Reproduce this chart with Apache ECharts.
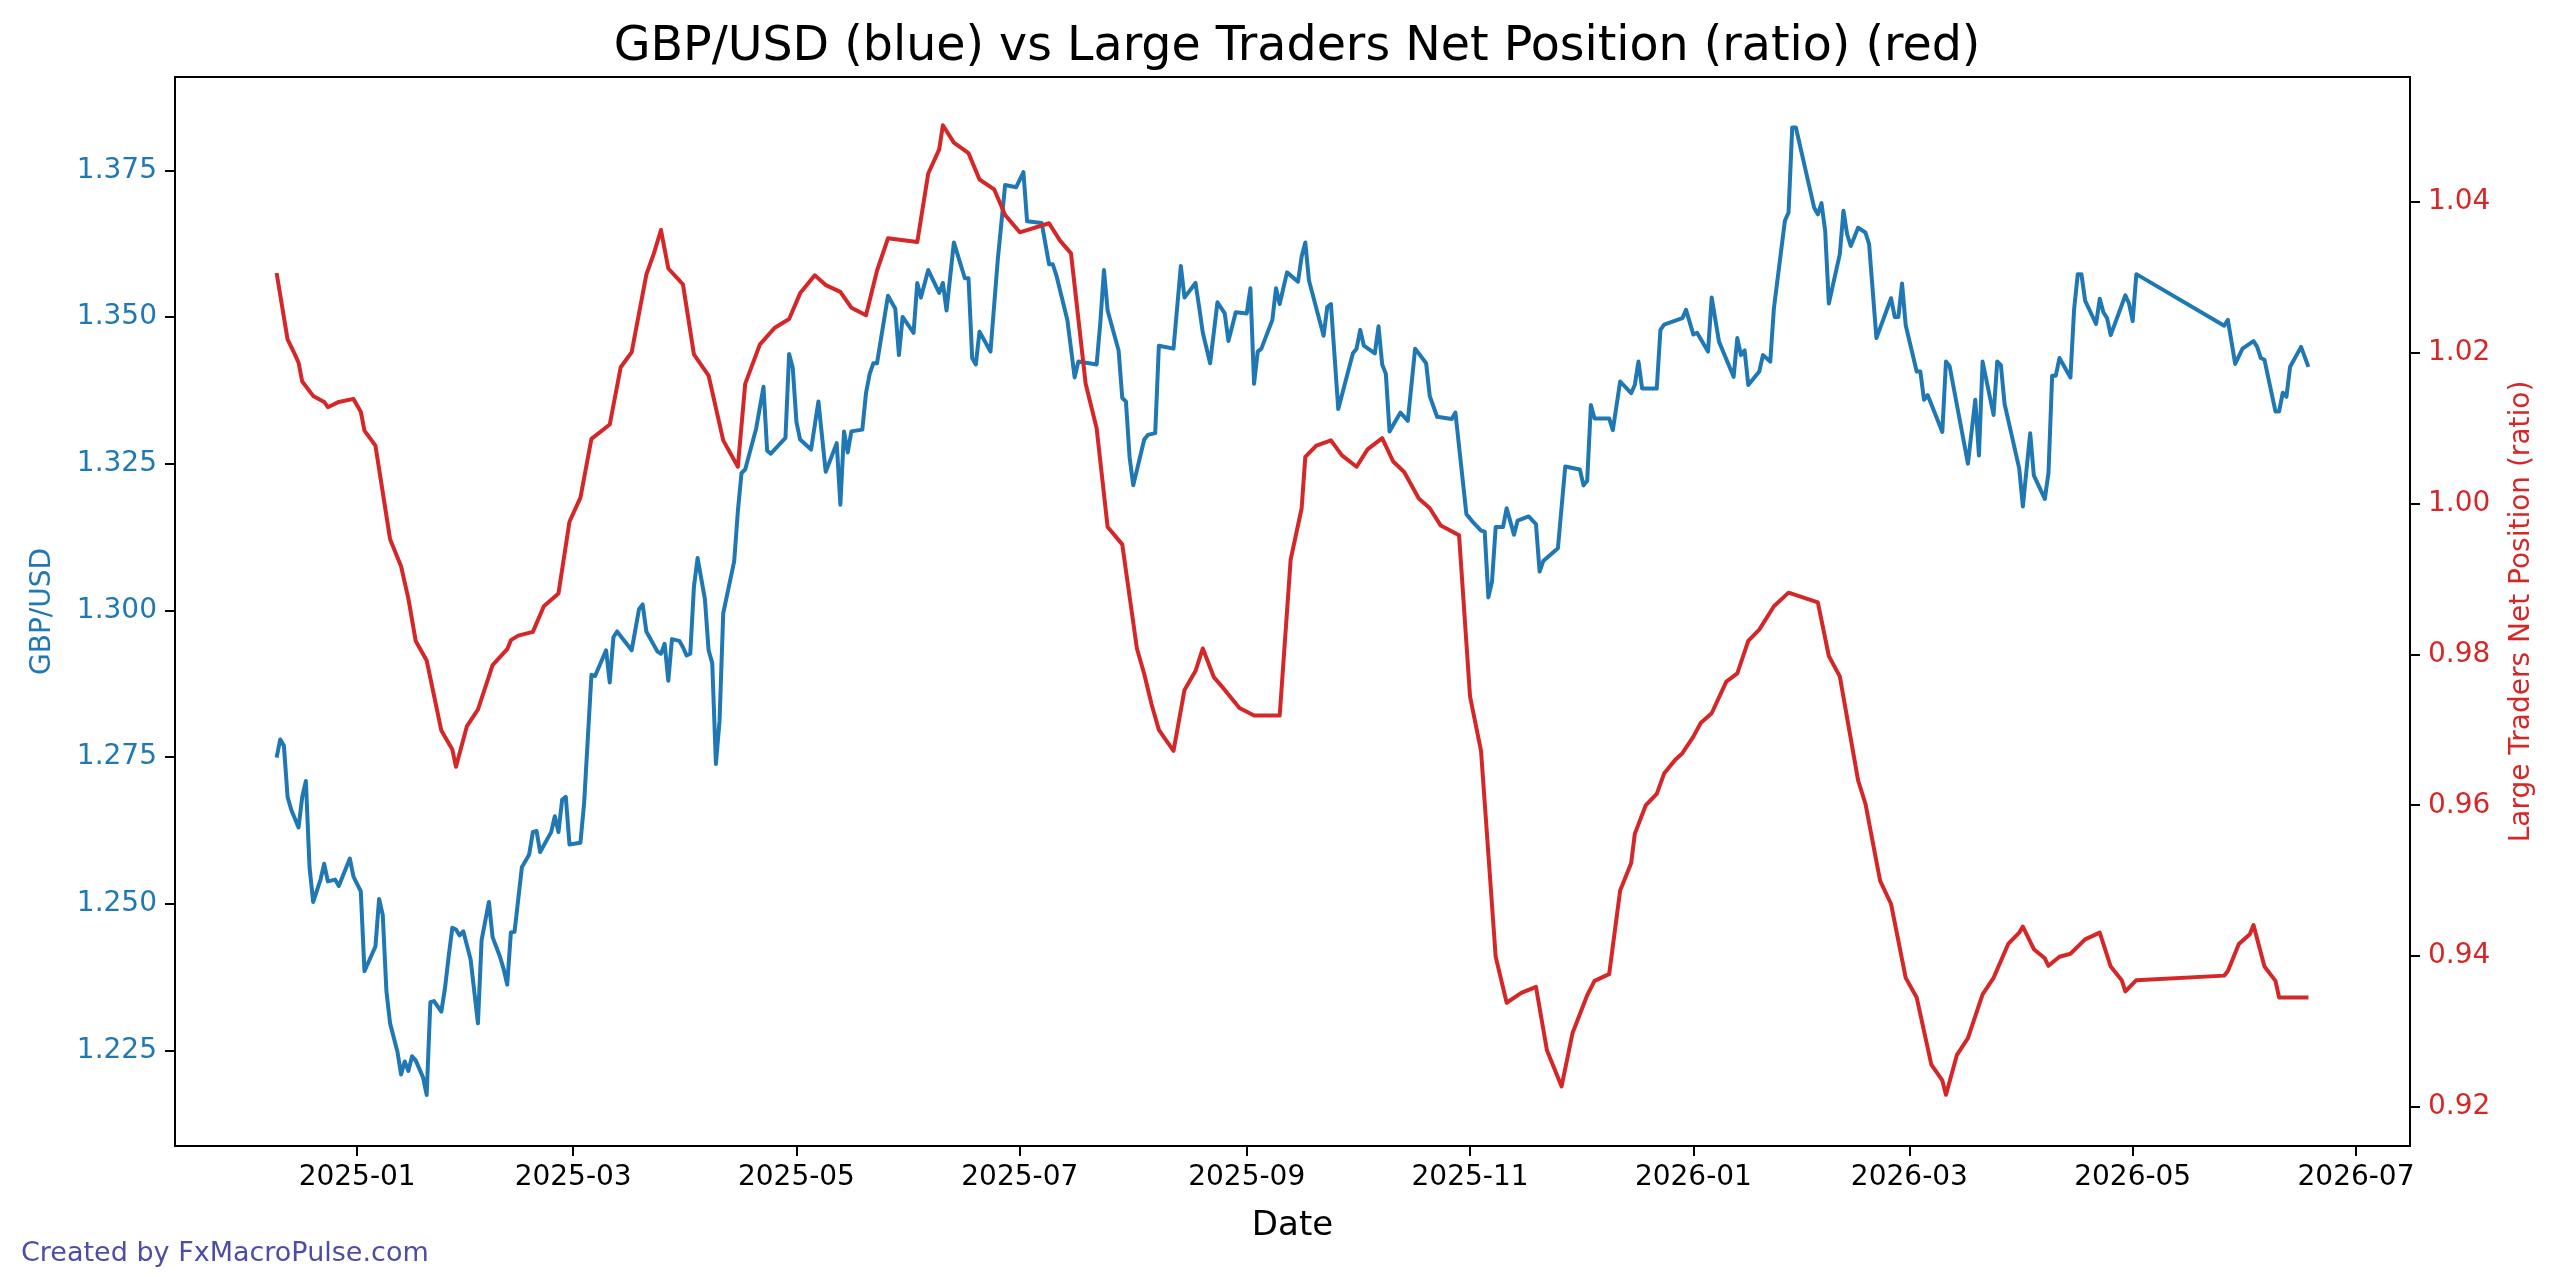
<!DOCTYPE html>
<html>
<head>
<meta charset="utf-8">
<title>GBP/USD vs Large Traders Net Position</title>
<script src="https://cdn.jsdelivr.net/npm/echarts@6/dist/echarts.min.js"></script>
<style>
html,body{margin:0;padding:0;background:#fff;}
#chart{width:2560px;height:1288px;}
</style>
</head>
<body>
<div id="chart"></div>
<script>
// GBP/USD daily close
const gbpDates = [
  '2024-12-10','2024-12-11','2024-12-12','2024-12-13','2024-12-14','2024-12-16','2024-12-17','2024-12-18','2024-12-19','2024-12-20',
  '2024-12-22','2024-12-23','2024-12-24','2024-12-26','2024-12-27','2024-12-30','2024-12-31','2025-01-02','2025-01-03','2025-01-06',
  '2025-01-07','2025-01-08','2025-01-09','2025-01-10','2025-01-12','2025-01-13','2025-01-14','2025-01-15','2025-01-16','2025-01-17',
  '2025-01-19','2025-01-20','2025-01-21','2025-01-22','2025-01-24','2025-01-25','2025-01-26','2025-01-27','2025-01-28','2025-01-29',
  '2025-01-30','2025-02-01','2025-02-03','2025-02-04','2025-02-06','2025-02-07','2025-02-09','2025-02-10','2025-02-11','2025-02-12',
  '2025-02-13','2025-02-15','2025-02-17','2025-02-18','2025-02-19','2025-02-20','2025-02-23','2025-02-24','2025-02-25','2025-02-26',
  '2025-02-27','2025-02-28','2025-03-03','2025-03-04','2025-03-06','2025-03-07','2025-03-10','2025-03-11','2025-03-12','2025-03-13',
  '2025-03-17','2025-03-19','2025-03-20','2025-03-21','2025-03-24','2025-03-25','2025-03-26','2025-03-27','2025-03-28','2025-03-30',
  '2025-03-31','2025-04-01','2025-04-02','2025-04-03','2025-04-04','2025-04-06','2025-04-07','2025-04-08','2025-04-09','2025-04-10',
  '2025-04-11','2025-04-14','2025-04-15','2025-04-16','2025-04-17','2025-04-20','2025-04-22','2025-04-23','2025-04-24','2025-04-28',
  '2025-04-29','2025-04-30','2025-05-01','2025-05-02','2025-05-05','2025-05-07','2025-05-09','2025-05-12','2025-05-13','2025-05-14',
  '2025-05-15','2025-05-16','2025-05-19','2025-05-20','2025-05-21','2025-05-22','2025-05-23','2025-05-26','2025-05-28','2025-05-29',
  '2025-05-30','2025-06-02','2025-06-03','2025-06-04','2025-06-06','2025-06-09','2025-06-10','2025-06-11','2025-06-13','2025-06-16',
  '2025-06-17','2025-06-18','2025-06-19','2025-06-20','2025-06-23','2025-06-25','2025-06-27','2025-06-30','2025-07-02','2025-07-03',
  '2025-07-07','2025-07-09','2025-07-10','2025-07-11','2025-07-14','2025-07-16','2025-07-17','2025-07-22','2025-07-23','2025-07-24',
  '2025-07-25','2025-07-28','2025-07-29','2025-07-30','2025-07-31','2025-08-01','2025-08-04','2025-08-05','2025-08-07','2025-08-08',
  '2025-08-12','2025-08-14','2025-08-15','2025-08-18','2025-08-19','2025-08-20','2025-08-22','2025-08-24','2025-08-26','2025-08-27',
  '2025-08-29','2025-09-01','2025-09-02','2025-09-03','2025-09-04','2025-09-05','2025-09-08','2025-09-09','2025-09-10','2025-09-12',
  '2025-09-15','2025-09-16','2025-09-17','2025-09-18','2025-09-22','2025-09-23','2025-09-24','2025-09-26','2025-09-30','2025-10-01',
  '2025-10-02','2025-10-03','2025-10-06','2025-10-07','2025-10-08','2025-10-09','2025-10-10','2025-10-13','2025-10-15','2025-10-17',
  '2025-10-20','2025-10-21','2025-10-23','2025-10-27','2025-10-28','2025-10-31','2025-11-02','2025-11-04','2025-11-05','2025-11-06',
  '2025-11-07','2025-11-08','2025-11-10','2025-11-11','2025-11-13','2025-11-14','2025-11-17','2025-11-19','2025-11-20','2025-11-21',
  '2025-11-25','2025-11-27','2025-12-01','2025-12-02','2025-12-03','2025-12-04','2025-12-05','2025-12-09','2025-12-10','2025-12-12',
  '2025-12-15','2025-12-16','2025-12-17','2025-12-18','2025-12-22','2025-12-23','2025-12-24','2025-12-29','2025-12-30','2026-01-01',
  '2026-01-02','2026-01-05','2026-01-06','2026-01-08','2026-01-12','2026-01-13','2026-01-14','2026-01-15','2026-01-16','2026-01-19',
  '2026-01-20','2026-01-22','2026-01-23','2026-01-26','2026-01-27','2026-01-28','2026-01-29','2026-02-03','2026-02-04','2026-02-05',
  '2026-02-06','2026-02-07','2026-02-10','2026-02-11','2026-02-12','2026-02-13','2026-02-15','2026-02-17','2026-02-18','2026-02-20',
  '2026-02-24','2026-02-25','2026-02-26','2026-02-27','2026-02-28','2026-03-03','2026-03-04','2026-03-05','2026-03-06','2026-03-10',
  '2026-03-11','2026-03-12','2026-03-17','2026-03-19','2026-03-20','2026-03-21','2026-03-24','2026-03-25','2026-03-26','2026-03-27',
  '2026-03-31','2026-04-01','2026-04-03','2026-04-04','2026-04-07','2026-04-08','2026-04-09','2026-04-10','2026-04-11','2026-04-14',
  '2026-04-15','2026-04-16','2026-04-17','2026-04-18','2026-04-21','2026-04-22','2026-04-23','2026-04-24','2026-04-25','2026-04-29',
  '2026-04-30','2026-05-01','2026-05-02','2026-05-26','2026-05-27','2026-05-29','2026-05-31','2026-06-03','2026-06-04','2026-06-05',
  '2026-06-06','2026-06-09','2026-06-10','2026-06-11','2026-06-12','2026-06-13','2026-06-16','2026-06-18'
];
const gbpValues = [
  1.2749,1.2780,1.2769,1.2682,1.2660,1.2630,1.2682,1.2709,1.2562,1.2503,
  1.2541,1.2568,1.2538,1.2541,1.2530,1.2577,1.2546,1.2521,1.2385,1.2427,
  1.2508,1.2481,1.2351,1.2296,1.2248,1.2209,1.2231,1.2215,1.2240,1.2233,
  1.2204,1.2174,1.2332,1.2334,1.2316,1.2356,1.2410,1.2459,1.2456,1.2446,
  1.2453,1.2405,1.2296,1.2438,1.2503,1.2443,1.2410,1.2389,1.2362,1.2451,
  1.2452,1.2562,1.2584,1.2622,1.2624,1.2588,1.2622,1.2649,1.2622,1.2677,
  1.2682,1.2601,1.2604,1.2671,1.2890,1.2888,1.2932,1.2877,1.2954,1.2964,
  1.2932,1.3002,1.3010,1.2964,1.2930,1.2926,1.2943,1.2880,1.2951,1.2948,
  1.2937,1.2923,1.2926,1.3040,1.3089,1.3019,1.2932,1.2910,1.2738,1.2812,
  1.2995,1.3084,1.3169,1.3234,1.3240,1.3310,1.3381,1.3272,1.3267,1.3294,
  1.3437,1.3413,1.3321,1.3291,1.3274,1.3356,1.3236,1.3285,1.3180,1.3305,
  1.3269,1.3305,1.3308,1.3370,1.3403,1.3421,1.3421,1.3536,1.3514,1.3435,
  1.3500,1.3473,1.3558,1.3533,1.3580,1.3541,1.3558,1.3511,1.3627,1.3566,
  1.3566,1.3430,1.3419,1.3475,1.3441,1.3598,1.3725,1.3721,1.3747,1.3663,
  1.3660,1.3590,1.3590,1.3571,1.3495,1.3397,1.3424,1.3419,1.3490,1.3580,
  1.3511,1.3443,1.3362,1.3356,1.3261,1.3213,1.3291,1.3299,1.3302,1.3451,
  1.3446,1.3587,1.3533,1.3558,1.3517,1.3473,1.3421,1.3525,1.3506,1.3459,
  1.3508,1.3506,1.3549,1.3386,1.3441,1.3446,1.3495,1.3549,1.3522,1.3576,
  1.3560,1.3603,1.3627,1.3562,1.3468,1.3517,1.3522,1.3343,1.3438,1.3446,
  1.3478,1.3451,1.3438,1.3484,1.3419,1.3403,1.3305,1.3337,1.3323,1.3446,
  1.3421,1.3365,1.3330,1.3326,1.3337,1.3164,1.3149,1.3136,1.3134,1.3022,
  1.3049,1.3142,1.3142,1.3174,1.3129,1.3153,1.3160,1.3147,1.3066,1.3084,
  1.3106,1.3245,1.3240,1.3213,1.3221,1.3350,1.3327,1.3327,1.3307,1.3390,
  1.3370,1.3384,1.3424,1.3378,1.3378,1.3478,1.3487,1.3498,1.3512,1.3470,
  1.3473,1.3441,1.3533,1.3458,1.3398,1.3464,1.3435,1.3443,1.3384,1.3407,
  1.3435,1.3424,1.3515,1.3664,1.3678,1.3823,1.3823,1.3686,1.3675,1.3694,
  1.3647,1.3523,1.3607,1.3681,1.3641,1.3621,1.3652,1.3644,1.3624,1.3464,
  1.3532,1.3500,1.3500,1.3557,1.3486,1.3407,1.3407,1.3359,1.3367,1.3304,
  1.3424,1.3416,1.3250,1.3359,1.3264,1.3424,1.3333,1.3424,1.3418,1.3352,
  1.3242,1.3177,1.3302,1.3230,1.3190,1.3234,1.3400,1.3400,1.3430,1.3397,
  1.3513,1.3573,1.3573,1.3528,1.3488,1.3531,1.3508,1.3498,1.3469,1.3537,
  1.3523,1.3493,1.3573,1.3485,1.3495,1.3420,1.3446,1.3459,1.3449,1.3430,
  1.3427,1.3339,1.3339,1.3371,1.3364,1.3415,1.3449,1.3415
];

// Large traders net position ratio
const ratioDates = [
  '2024-12-10','2024-12-13','2024-12-15','2024-12-16','2024-12-17','2024-12-20','2024-12-23','2024-12-24','2024-12-27','2024-12-31',
  '2025-01-02','2025-01-03','2025-01-06','2025-01-10','2025-01-13','2025-01-15','2025-01-17','2025-01-20','2025-01-24','2025-01-27',
  '2025-01-28','2025-01-31','2025-02-03','2025-02-07','2025-02-11','2025-02-12','2025-02-14','2025-02-18','2025-02-21','2025-02-25',
  '2025-02-28','2025-03-03','2025-03-06','2025-03-11','2025-03-14','2025-03-17','2025-03-21','2025-03-23','2025-03-25','2025-03-27',
  '2025-03-31','2025-04-03','2025-04-07','2025-04-11','2025-04-15','2025-04-17','2025-04-21','2025-04-25','2025-04-29','2025-05-02',
  '2025-05-06','2025-05-09','2025-05-13','2025-05-16','2025-05-20','2025-05-23','2025-05-26','2025-06-03','2025-06-06','2025-06-09',
  '2025-06-10','2025-06-13','2025-06-17','2025-06-20','2025-06-24','2025-06-27','2025-07-01','2025-07-09','2025-07-12','2025-07-15',
  '2025-07-19','2025-07-22','2025-07-25','2025-07-29','2025-08-02','2025-08-04','2025-08-06','2025-08-08','2025-08-12','2025-08-15',
  '2025-08-18','2025-08-20','2025-08-23','2025-08-26','2025-08-30','2025-09-03','2025-09-10','2025-09-13','2025-09-16','2025-09-17',
  '2025-09-20','2025-09-24','2025-09-27','2025-10-01','2025-10-04','2025-10-08','2025-10-11','2025-10-14','2025-10-18','2025-10-21',
  '2025-10-24','2025-10-29','2025-11-01','2025-11-04','2025-11-08','2025-11-11','2025-11-15','2025-11-19','2025-11-22','2025-11-26',
  '2025-11-29','2025-12-03','2025-12-05','2025-12-09','2025-12-12','2025-12-15','2025-12-16','2025-12-19','2025-12-22','2025-12-24',
  '2025-12-27','2025-12-29','2026-01-01','2026-01-03','2026-01-06','2026-01-10','2026-01-13','2026-01-16','2026-01-19','2026-01-23',
  '2026-01-27','2026-02-04','2026-02-07','2026-02-10','2026-02-15','2026-02-17','2026-02-21','2026-02-24','2026-02-28','2026-03-03',
  '2026-03-07','2026-03-10','2026-03-11','2026-03-14','2026-03-17','2026-03-21','2026-03-24','2026-03-28','2026-03-31','2026-04-01',
  '2026-04-04','2026-04-07','2026-04-08','2026-04-11','2026-04-14','2026-04-18','2026-04-22','2026-04-25','2026-04-28','2026-04-29',
  '2026-05-02','2026-05-26','2026-05-27','2026-05-30','2026-06-02','2026-06-03','2026-06-06','2026-06-09','2026-06-10','2026-06-18'
];
const ratioValues = [
  1.0306,1.0218,1.0198,1.0187,1.0162,1.0143,1.0135,1.0128,1.0135,1.0139,
  1.0122,1.0097,1.0077,0.9953,0.9917,0.9874,0.9818,0.9792,0.9699,0.9674,
  0.9651,0.9705,0.9727,0.9786,0.9807,0.9819,0.9825,0.9830,0.9864,0.9881,
  0.9976,1.0008,1.0086,1.0105,1.0181,1.0201,1.0304,1.0331,1.0363,1.0312,
  1.0291,1.0198,1.0170,1.0084,1.0049,1.0159,1.0211,1.0233,1.0245,1.0279,
  1.0303,1.0290,1.0281,1.0260,1.0250,1.0309,1.0352,1.0347,1.0438,1.0470,
  1.0502,1.0479,1.0465,1.0430,1.0417,1.0383,1.0360,1.0372,1.0349,1.0332,
  1.0159,1.0100,0.9969,0.9946,0.9808,0.9774,0.9734,0.9700,0.9672,0.9753,
  0.9778,0.9808,0.9770,0.9753,0.9729,0.9719,0.9719,0.9926,0.9994,1.0062,
  1.0077,1.0084,1.0064,1.0049,1.0072,1.0087,1.0056,1.0042,1.0007,0.9994,
  0.9971,0.9958,0.9744,0.9672,0.9399,0.9338,0.9351,0.9359,0.9275,0.9227,
  0.9298,0.9348,0.9367,0.9376,0.9487,0.9523,0.9562,0.9600,0.9615,0.9642,
  0.9660,0.9669,0.9691,0.9709,0.9722,0.9764,0.9775,0.9818,0.9833,0.9864,
  0.9882,0.9869,0.9798,0.9771,0.9633,0.9602,0.9500,0.9469,0.9371,0.9345,
  0.9256,0.9235,0.9216,0.9269,0.9291,0.9349,0.9371,0.9416,0.9431,0.9439,
  0.9409,0.9397,0.9387,0.9399,0.9403,0.9422,0.9431,0.9386,0.9368,0.9353,
  0.9368,0.9374,0.9380,0.9416,0.9429,0.9441,0.9386,0.9367,0.9345,0.9345
];

const xTickLabels = ['2025-01','2025-03','2025-05','2025-07','2025-09','2025-11','2026-01','2026-03','2026-05','2026-07'];
const gbpTicks = [1.225, 1.250, 1.275, 1.300, 1.325, 1.350, 1.375];
const ratioTicks = [0.92, 0.94, 0.96, 0.98, 1.00, 1.02, 1.04];

const BLUE = '#1f77b4';
const RED = '#d62728';
const FONT = 'DejaVu Sans';

function toTime(s) {
  const p = s.split('-').map(Number);
  return new Date(p[0], p[1] - 1, p[2] || 1).getTime();
}
function monthLabel(v) {
  const d = new Date(v);
  const m = d.getMonth() + 1;
  return d.getFullYear() + '-' + (m < 10 ? '0' + m : m);
}

// dates become timestamps on a numeric axis so the month ticks can be placed exactly
const xTickTimes = xTickLabels.map(toTime);
const xMin = new Date(2024, 10, 12, 6).getTime();
const xMax = new Date(2026, 6, 15, 18).getTime();

const gbpData = gbpDates.map((d, i) => [toTime(d), gbpValues[i]]);
const ratioData = ratioDates.map((d, i) => [toTime(d), ratioValues[i]]);

const tickStyle = { color: '#000', width: 2 };

const chart = echarts.init(document.getElementById('chart'));
chart.setOption({
  animation: false,
  backgroundColor: '#fff',
  textStyle: { fontFamily: FONT },
  title: {
    text: 'GBP/USD (blue) vs Large Traders Net Position (ratio) (red)',
    left: 1292,
    top: 19,
    textAlign: 'center',
    textStyle: { fontSize: 47.5, fontWeight: 'normal', color: '#000', fontFamily: FONT }
  },
  grid: {
    left: 175, right: 150, top: 77, bottom: 142,
    show: true, borderColor: '#000', borderWidth: 2, backgroundColor: 'transparent'
  },
  xAxis: {
    type: 'value',
    min: xMin,
    max: xMax,
    scale: true,
    name: 'Date',
    nameLocation: 'middle',
    nameGap: 63,
    nameTextStyle: { fontSize: 34, color: '#000', fontFamily: FONT },
    axisLine: { show: true, onZero: false, lineStyle: tickStyle },
    axisTick: { show: true, length: 10, lineStyle: tickStyle, customValues: xTickTimes },
    axisLabel: {
      customValues: xTickTimes,
      formatter: monthLabel,
      fontSize: 28, color: '#000', margin: 18, fontFamily: FONT
    },
    splitLine: { show: false }
  },
  yAxis: [
    {
      type: 'value',
      position: 'left',
      min: 1.2087,
      max: 1.3909,
      name: 'GBP/USD',
      nameLocation: 'middle',
      nameGap: 118,
      nameRotate: 90,
      nameTextStyle: { fontSize: 28, color: BLUE, fontFamily: FONT },
      axisLine: { show: true, onZero: false, lineStyle: tickStyle },
      axisTick: { show: true, length: 10, lineStyle: tickStyle, customValues: gbpTicks },
      axisLabel: {
        customValues: gbpTicks,
        formatter: v => v.toFixed(3),
        fontSize: 28, color: BLUE, margin: 18, fontFamily: FONT
      },
      splitLine: { show: false }
    },
    {
      type: 'value',
      position: 'right',
      min: 0.9148,
      max: 1.0566,
      name: 'Large Traders Net Position (ratio)',
      nameLocation: 'middle',
      nameGap: 98,
      nameRotate: 90,
      nameTextStyle: { fontSize: 28, color: RED, fontFamily: FONT },
      axisLine: { show: true, onZero: false, lineStyle: tickStyle },
      axisTick: { show: true, length: 10, lineStyle: tickStyle, customValues: ratioTicks },
      axisLabel: {
        customValues: ratioTicks,
        formatter: v => v.toFixed(2),
        fontSize: 28, color: RED, margin: 18, fontFamily: FONT
      },
      splitLine: { show: false }
    }
  ],
  series: [
    {
      name: 'GBP/USD',
      type: 'line',
      yAxisIndex: 0,
      data: gbpData,
      showSymbol: false,
      lineStyle: { color: BLUE, width: 4, join: 'round' },
      itemStyle: { color: BLUE }
    },
    {
      name: 'Large Traders Net Position (ratio)',
      type: 'line',
      yAxisIndex: 1,
      data: ratioData,
      showSymbol: false,
      lineStyle: { color: RED, width: 4, join: 'round' },
      itemStyle: { color: RED }
    }
  ],
  graphic: [
    {
      type: 'text',
      left: 21,
      top: 1240,
      style: {
        text: 'Created by FxMacroPulse.com',
        fill: '#4d4da6',
        fontSize: 27,
        fontFamily: FONT
      }
    }
  ]
});
</script>
</body>
</html>
